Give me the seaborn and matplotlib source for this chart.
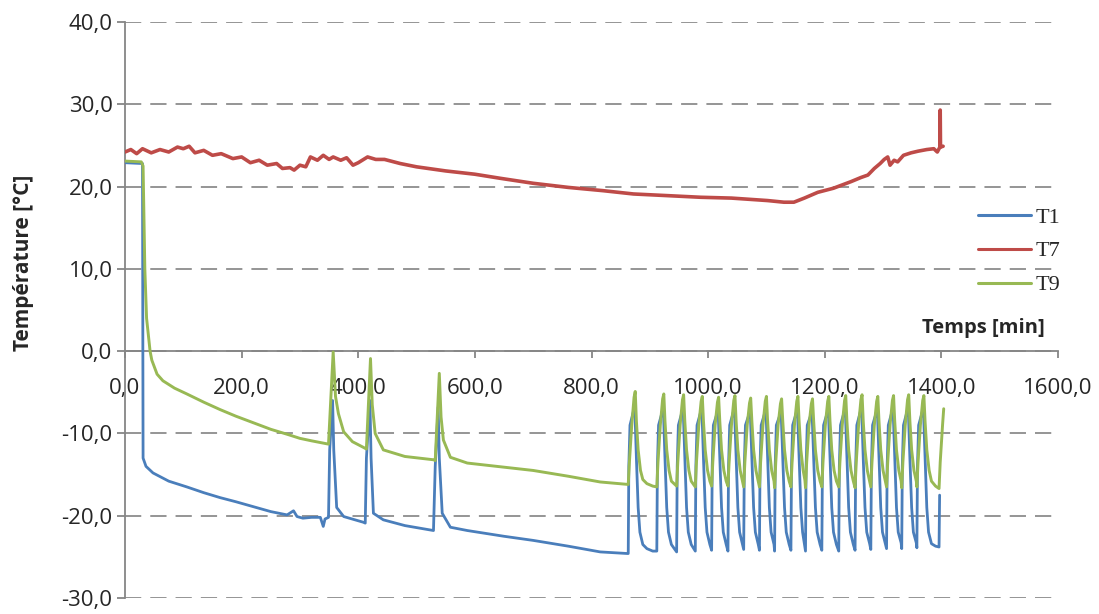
import pandas as pd
import numpy as np
import matplotlib
matplotlib.use("Agg")
import matplotlib.pyplot as plt
from matplotlib.ticker import FuncFormatter, MultipleLocator
from matplotlib.lines import Line2D
import seaborn as sns

# T1 readings (time in min, temperature in °C)
t1_time = [0, 30, 31, 36, 48, 75, 106, 135, 163, 190, 220, 250, 278, 289, 295, 305, 320, 335, 340, 343,
           349, 351, 356, 358, 363, 375, 409, 412, 414, 420, 422, 426, 443, 480, 529, 532, 537, 539, 544, 558,
           587, 650, 700, 760, 815, 863,
           864, 866, 873, 874, 877, 880, 883, 888, 895, 905,
           912, 913, 915, 922, 923, 926, 929, 932, 937,
           946, 947, 949, 956, 957, 960, 963, 966, 971,
           978, 979, 981, 988, 989, 992, 995, 998, 1003,
           1006, 1007, 1009, 1016, 1017, 1020, 1023, 1026, 1031,
           1034, 1035, 1037, 1044, 1045, 1048, 1051, 1054, 1059,
           1061, 1062, 1064, 1071, 1072, 1075, 1078, 1081, 1086,
           1088, 1089, 1091, 1098, 1099, 1102, 1105, 1108, 1113,
           1114, 1115, 1117, 1124, 1125, 1128, 1131, 1134, 1139,
           1142, 1143, 1145, 1152, 1153, 1156, 1159, 1162, 1165,
           1167, 1168, 1170, 1177, 1178, 1181, 1184, 1187, 1192,
           1195, 1196, 1198, 1205, 1206, 1209, 1212, 1215, 1220,
           1224, 1225, 1227, 1234, 1235, 1238, 1241, 1244, 1249,
           1252, 1253, 1255, 1262, 1263, 1266, 1269, 1272, 1277,
           1279, 1280, 1282, 1289, 1290, 1293, 1296, 1299, 1304,
           1306, 1307, 1309, 1316, 1317, 1320, 1323, 1326, 1331,
           1332, 1333, 1335, 1342, 1343, 1346, 1349, 1352, 1357,
           1358, 1359, 1361, 1368, 1369, 1372, 1375, 1378, 1383, 1390,
           1396, 1397]
t1_temp = [22.9, 22.8, -13.0, -14.0, -14.8, -15.8, -16.5, -17.2, -17.8, -18.3, -18.9, -19.5, -19.9, -19.4,
           -20.1, -20.3, -20.2, -20.2, -21.3, -20.4, -20.2, -12.0, -6.0, -12.0, -19.0, -20.1, -20.8, -20.9,
           -13.0, -6.0, -13.0, -19.7, -20.5, -21.2, -21.8, -14.0, -6.8, -13.0, -19.7, -21.4, -21.8, -22.5,
           -23.0, -23.7, -24.4, -24.6,
           -14.0, -9.0, -7.0, -6.3, -13.0, -19.0, -22.0, -23.5, -24.0, -24.3,
           -24.3, -14.0, -9.0, -7.2, -6.5, -13.0, -19.0, -22.0, -23.5,
           -24.4, -14.0, -9.0, -7.2, -6.6, -13.0, -19.0, -22.0, -23.5,
           -24.3, -14.0, -9.0, -7.2, -6.5, -13.0, -19.0, -22.0, -23.5,
           -24.2, -14.0, -9.0, -7.4, -6.8, -13.0, -19.0, -22.0, -23.5,
           -24.3, -14.0, -9.0, -7.2, -6.6, -13.0, -19.0, -22.0, -23.5,
           -24.1, -14.0, -9.0, -7.5, -6.9, -13.0, -19.0, -22.0, -23.5,
           -24.2, -14.0, -9.0, -7.3, -6.7, -13.0, -19.0, -22.0, -23.5,
           -24.3, -14.0, -9.0, -7.6, -7.0, -13.0, -19.0, -22.0, -23.5,
           -24.2, -14.0, -9.0, -7.3, -6.7, -13.0, -19.0, -22.0, -23.4,
           -24.3, -14.0, -9.0, -7.6, -7.0, -13.0, -19.0, -22.0, -23.5,
           -24.2, -14.0, -9.0, -7.3, -6.7, -13.0, -19.0, -22.0, -23.5,
           -24.3, -14.0, -9.0, -7.2, -6.6, -13.0, -19.0, -22.0, -23.5,
           -24.2, -14.0, -9.0, -7.1, -6.5, -13.0, -19.0, -22.0, -23.4,
           -24.1, -14.0, -9.0, -7.3, -6.7, -13.0, -19.0, -22.0, -23.4,
           -24.0, -14.0, -9.0, -7.2, -6.6, -13.0, -19.0, -22.0, -23.3,
           -24.0, -14.0, -9.0, -7.1, -6.5, -13.0, -19.0, -22.0, -23.3,
           -23.9, -14.0, -9.0, -7.2, -6.6, -13.0, -19.0, -22.0, -23.4, -23.7,
           -23.8, -17.5]

# T7 readings
t7_time = [0, 10, 20, 30, 45, 60, 75, 90, 100, 110, 120, 135, 150, 165, 185, 200, 215, 230, 244, 260,
           270, 283, 290, 300, 310, 318, 330, 340, 350, 357, 370, 380, 391, 400, 416, 430, 445, 472, 500, 550,
           600, 644, 700, 760, 820, 872, 930, 987, 1040, 1102, 1130, 1147, 1165, 1188, 1215, 1245, 1262, 1274,
           1285, 1295, 1302, 1308, 1312, 1319, 1325, 1335, 1348, 1360, 1375, 1387, 1393, 1397.5, 1398, 1398.5,
           1403]
t7_temp = [24.2, 24.5, 24.0, 24.6, 24.1, 24.5, 24.2, 24.8, 24.6, 24.9, 24.1, 24.4, 23.8, 24.0, 23.4, 23.6,
           22.9, 23.2, 22.6, 22.8, 22.2, 22.3, 22.0, 22.6, 22.4, 23.6, 23.2, 23.8, 23.3, 23.6, 23.2, 23.5,
           22.6, 22.9, 23.6, 23.3, 23.3, 22.8, 22.4, 21.9, 21.5, 21.0, 20.4, 19.9, 19.5, 19.1, 18.9, 18.7,
           18.6, 18.3, 18.1, 18.1, 18.6, 19.3, 19.8, 20.6, 21.1, 21.4, 22.2, 22.8, 23.3, 23.6, 22.6, 23.2,
           23.0, 23.8, 24.1, 24.3, 24.5, 24.6, 24.2, 24.8, 29.3, 24.8, 24.9]

# T9 readings
t9_time = [0, 28, 31, 34, 37, 43, 46, 55, 65, 85, 106, 135, 163, 190, 220, 250, 278, 300, 320, 335,
           349, 357, 361, 366, 375, 390, 409, 414, 421, 424, 429, 443, 480, 529, 532, 539, 542, 546, 558, 587,
           650, 700, 760, 815, 863,
           865, 869, 873, 875, 877, 880, 884, 888, 895, 905,
           912, 914, 918, 922, 924, 926, 929, 933, 937,
           946, 948, 952, 956, 958, 960, 963, 967, 971,
           978, 980, 984, 988, 990, 992, 995, 999, 1003,
           1006, 1008, 1012, 1016, 1018, 1020, 1023, 1027, 1031,
           1034, 1036, 1040, 1044, 1046, 1048, 1051, 1055, 1059,
           1061, 1063, 1067, 1071, 1073, 1075, 1078, 1082, 1086,
           1088, 1090, 1094, 1098, 1100, 1102, 1105, 1109, 1113,
           1114, 1116, 1120, 1124, 1126, 1128, 1131, 1135, 1139,
           1142, 1144, 1148, 1152, 1154, 1156, 1159, 1163, 1166,
           1167, 1169, 1173, 1177, 1179, 1181, 1184, 1188, 1192,
           1195, 1197, 1201, 1205, 1207, 1209, 1212, 1216, 1220,
           1224, 1226, 1230, 1234, 1236, 1238, 1241, 1245, 1249,
           1252, 1254, 1258, 1262, 1264, 1266, 1269, 1273, 1277,
           1279, 1281, 1285, 1289, 1291, 1293, 1296, 1300, 1304,
           1306, 1308, 1312, 1316, 1318, 1320, 1323, 1327, 1331,
           1332, 1334, 1338, 1342, 1344, 1346, 1349, 1353, 1357,
           1358, 1360, 1364, 1368, 1370, 1372, 1375, 1379, 1383, 1390,
           1396, 1398, 1402, 1404]
t9_temp = [23.1, 23.0, 22.5, 10.0, 4.0, 0.0, -1.1, -2.8, -3.6, -4.5, -5.2, -6.2, -7.1, -7.9, -8.7, -9.5,
           -10.1, -10.6, -10.9, -11.1, -11.3, -0.1, -5.5, -7.6, -9.8, -11.0, -11.7, -11.9, -0.9, -6.5,
           -10.0, -12.0, -12.8, -13.2, -13.3, -2.7, -8.0, -10.8, -12.9, -13.6, -14.1, -14.5, -15.2, -15.9,
           -16.2,
           -13.5, -9.0, -5.6, -4.9, -8.5, -12.0, -14.5, -15.6, -16.1, -16.4,
           -16.5, -13.5, -9.0, -5.8, -5.2, -8.5, -12.0, -14.5, -15.8,
           -16.4, -13.5, -9.0, -5.9, -5.3, -8.5, -12.0, -14.5, -15.8,
           -16.5, -13.5, -9.0, -6.1, -5.5, -8.5, -12.0, -14.5, -15.8,
           -16.4, -13.5, -9.0, -6.2, -5.6, -8.5, -12.0, -14.5, -15.8,
           -16.4, -13.5, -9.0, -6.0, -5.4, -8.5, -12.0, -14.5, -15.8,
           -16.5, -13.5, -9.0, -6.3, -5.7, -8.5, -12.0, -14.5, -15.8,
           -16.5, -13.5, -9.0, -6.1, -5.5, -8.5, -12.0, -14.5, -15.8,
           -16.6, -13.5, -9.0, -6.4, -5.8, -8.5, -12.0, -14.5, -15.8,
           -16.5, -13.5, -9.0, -6.1, -5.5, -8.5, -12.0, -14.5, -15.7,
           -16.6, -13.5, -9.0, -6.4, -5.8, -8.5, -12.0, -14.5, -15.8,
           -16.5, -13.5, -9.0, -6.1, -5.5, -8.5, -12.0, -14.5, -15.8,
           -16.5, -13.5, -9.0, -6.0, -5.4, -8.5, -12.0, -14.5, -15.8,
           -16.6, -13.5, -9.0, -5.9, -5.3, -8.5, -12.0, -14.5, -15.8,
           -16.5, -13.5, -9.0, -6.1, -5.5, -8.5, -12.0, -14.5, -15.8,
           -16.5, -13.5, -9.0, -6.0, -5.4, -8.5, -12.0, -14.5, -15.8,
           -16.6, -13.5, -9.0, -5.9, -5.3, -8.5, -12.0, -14.5, -15.8,
           -16.5, -13.5, -9.0, -6.0, -5.4, -8.5, -12.0, -14.5, -15.8, -16.4,
           -16.7, -13.5, -9.0, -7.0]

series_names = ["T1", "T7", "T9"]
colors = {"T1": "#4A7EBB", "T7": "#BE4B48", "T9": "#98B954"}
widths = {"T1": 2.0, "T7": 2.6, "T9": 2.1}

frames = {
    "T1": pd.DataFrame({"time": t1_time, "temp": t1_temp}),
    "T7": pd.DataFrame({"time": t7_time, "temp": t7_temp}),
    "T9": pd.DataFrame({"time": t9_time, "temp": t9_temp}),
}

sns.set_style("white")
plt.rcParams['font.family'] = ['Open Sans', 'DejaVu Sans']

fig = plt.figure(figsize=(10.99, 6.14), dpi=100)
ax = fig.add_axes([125 / 1099, 1 - 598 / 614, (1058 - 125) / 1099, 576 / 614])

for name in series_names:
    sns.lineplot(data=frames[name], x="time", y="temp", color=colors[name],
                 linewidth=widths[name], estimator=None, sort=False, ax=ax, legend=False)

ax.set_xlim(0, 1600)
ax.set_ylim(-30, 40)
ax.xaxis.set_major_locator(MultipleLocator(200))
ax.yaxis.set_major_locator(MultipleLocator(10))
fmt = FuncFormatter(lambda v, p: f"{v:.1f}".replace(".", ","))
ax.xaxis.set_major_formatter(fmt)
ax.yaxis.set_major_formatter(fmt)

# horizontal dashed grid
ax.yaxis.grid(True, color="#8c8c8c", linewidth=1.3, linestyle=(0, (9, 5)))
ax.xaxis.grid(False)
ax.set_axisbelow(True)

# axes crossing at y = 0
ax.spines["bottom"].set_position(("data", 0))
ax.spines["top"].set_visible(False)
ax.spines["right"].set_visible(False)
for s in ["left", "bottom"]:
    ax.spines[s].set_color("#868686")
    ax.spines[s].set_linewidth(1.3)
    ax.spines[s].set_zorder(1)

ax.tick_params(axis="x", direction="out", length=5, width=1.3, color="#868686",
               labelsize=16, pad=14, bottom=True)
ax.tick_params(axis="y", direction="out", length=6, width=1.3, color="#868686",
               labelsize=16, pad=3, left=True)

ax.set_xlabel("")
ax.set_ylabel("Température [°C]", fontsize=15, fontweight="bold")
ax.yaxis.set_label_coords(-(125 - 34) / 933, (598 - 263) / 576)
ax.text(0.986, (598 - 328) / 576, "Temps [min]", transform=ax.transAxes,
        ha="right", va="center", fontsize=14.5, fontweight="bold")

handles = [Line2D([0], [0], color=colors[n], linewidth=2.2) for n in series_names]
leg = fig.legend(handles, series_names, loc="upper left", bbox_to_anchor=(978 / 1099, 1 - 207 / 614),
                 frameon=False, handlelength=2.4, handletextpad=0.2, labelspacing=0.6,
                 borderpad=0, borderaxespad=0,
                 prop={"family": "Liberation Serif", "size": 16})

fig.savefig("out.png", dpi=100)
